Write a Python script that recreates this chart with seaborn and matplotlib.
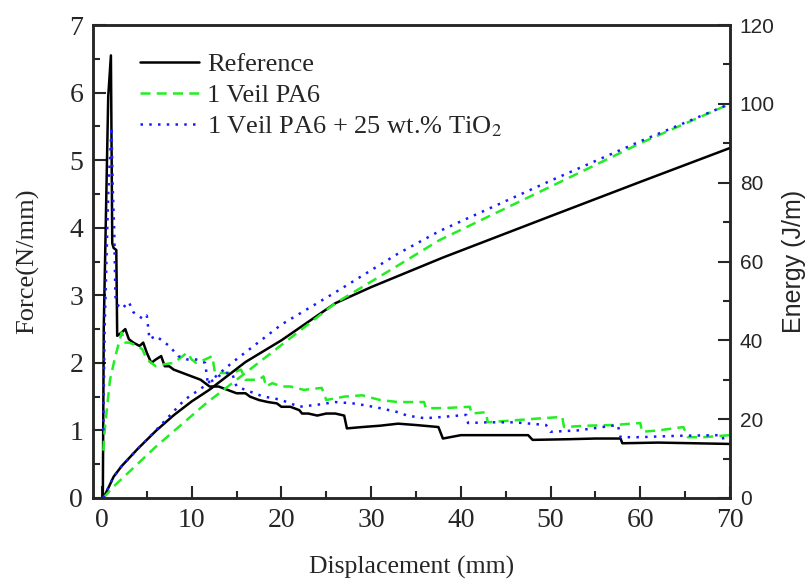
import numpy as np
import pandas as pd
import matplotlib
matplotlib.use("Agg")
import matplotlib.pyplot as plt
from matplotlib.ticker import MultipleLocator
import seaborn as sns

# force vs displacement
ref_fx = [0.1, 0.2, 0.7, 1.0, 1.15, 1.3, 1.6, 1.7, 2.2, 2.6, 3.0, 3.5, 4.2, 4.6, 5.0, 5.5, 6.0, 6.6, 7.0, 7.5,
          8.0, 9.0, 10.0, 11.0, 11.5, 12.0, 13.0, 14.0, 15.0, 16.0, 16.5, 17.5, 18.5, 19.5, 20.0, 21.0, 22.0,
          22.3, 23.0, 24.0, 25.0, 26.0, 27.0, 27.3, 29.0, 31.0, 33.0, 35.0, 37.5, 38.0, 40.0, 44.0, 47.5, 48.0,
          52.0, 55.0, 57.8, 58.0, 62.0, 66.0, 70.0]
ref_f = [0, 2.5, 5.94, 6.55, 3.77, 3.7, 3.67, 2.4, 2.45, 2.5, 2.35, 2.3, 2.25, 2.3, 2.15, 2.0, 2.05, 2.1, 1.95,
         1.95, 1.9, 1.85, 1.8, 1.75, 1.7, 1.65, 1.65, 1.6, 1.55, 1.55, 1.5, 1.45, 1.42, 1.4, 1.35, 1.35, 1.3,
         1.25, 1.25, 1.22, 1.25, 1.25, 1.22, 1.03, 1.05, 1.07, 1.1, 1.08, 1.05, 0.88, 0.93, 0.93, 0.93, 0.86,
         0.87, 0.88, 0.88, 0.81, 0.82, 0.81, 0.80]

pa6_fx = [0.15, 0.3, 0.9, 1.5, 2.2, 2.6, 3.0, 4.0, 4.5, 5.0, 5.5, 6.0, 7.0, 8.0, 9.0, 9.5, 10.0, 10.5, 11.5,
          12.3, 12.6, 13.5, 14.5, 15.5, 16.0, 17.5, 18.0, 18.3, 19.0, 20.0, 21.0, 22.5, 24.5, 25.0, 27.0, 29.0,
          31.0, 33.0, 35.9, 36.1, 38.0, 41.0, 41.2, 42.8, 43.0, 46.0, 49.0, 51.3, 51.5, 54.0, 57.0, 60.0, 60.2,
          62.0, 64.8, 65.3, 67.0, 70.0]
pa6_f = [0.7, 1.0, 1.75, 2.1, 2.45, 2.3, 2.3, 2.25, 2.2, 2.05, 2.0, 1.95, 1.98, 2.0, 2.1, 2.15, 2.05, 2.0, 2.05,
         2.1, 1.85, 1.85, 1.85, 1.9, 1.75, 1.75, 1.8, 1.65, 1.7, 1.65, 1.65, 1.6, 1.63, 1.45, 1.5, 1.52, 1.45,
         1.42, 1.42, 1.33, 1.33, 1.35, 1.25, 1.27, 1.12, 1.15, 1.18, 1.2, 1.05, 1.07, 1.08, 1.11, 0.98, 1.0,
         1.05, 0.9, 0.9, 0.93]

tio2_fx = [0.15, 0.3, 0.7, 1.07, 1.2, 1.37, 1.5, 1.8, 2.2, 2.6, 3.0, 3.5, 4.0, 4.6, 5.0, 5.3, 6.0, 6.5, 7.5,
           8.5, 9.5, 10.5, 11.5, 11.8, 12.5, 13.5, 14.5, 15.0, 16.0, 17.0, 18.0, 19.0, 20.0, 22.0, 24.0, 26.0,
           28.0, 29.4, 31.0, 33.0, 34.0, 36.0, 38.0, 40.6, 40.8, 43.0, 46.0, 49.5, 50.0, 53.0, 57.5, 57.8, 60.0,
           64.0, 68.8, 69.0, 70.0]
tio2_f = [1.0, 2.5, 4.5, 5.49, 4.6, 3.96, 2.98, 2.85, 2.8, 2.85, 2.9, 2.75, 2.7, 2.65, 2.7, 2.35, 2.4, 2.35,
          2.25, 2.1, 2.05, 2.05, 2.0, 1.7, 1.75, 1.85, 1.85, 1.65, 1.6, 1.55, 1.5, 1.48, 1.45, 1.35, 1.38, 1.42,
          1.4, 1.37, 1.33, 1.27, 1.22, 1.18, 1.2, 1.23, 1.11, 1.12, 1.12, 1.08, 0.98, 1.0, 1.08, 0.9, 0.9, 0.92,
          0.93, 0.88, 0.9]

# energy vs displacement
ref_ex = [0.15, 0.6, 1.3, 2.2, 4, 6, 8, 10, 12, 16, 20, 26, 30, 38, 50, 60, 70]
ref_e = [0, 2, 5.4, 8.1, 12.5, 17, 21, 24.5, 27.5, 34.5, 40, 49.4, 53.5, 61, 71.5, 80.2, 88.8]

pa6_ex = [0.15, 1.3, 6, 11.6, 18.3, 26, 33, 37.6, 50, 60, 70]
pa6_e = [0, 2.9, 13, 24, 35.8, 49.4, 59, 65.4, 79, 90, 100]

tio2_ex = [0.15, 1.3, 2.2, 4, 5.7, 9.2, 11.3, 14.6, 20, 26.1, 33, 37.6, 50, 60, 70]
tio2_e = [0, 5.4, 8.1, 12.5, 16.4, 24.9, 28.2, 34.5, 44, 52.3, 62, 67.7, 80.5, 90.5, 100]

labels = ["Reference", "1 Veil PA6", "1 Veil PA6 + 25 wt.% TiO$_2$"]
colors = ["black", "#22ee22", "#1a1aff"]
styles = ["-", (0, (4, 2.5)), (0, (1, 2.5))]

sns.set_style("ticks")
plt.rcParams['font.family'] = ['Liberation Serif', 'DejaVu Serif']
plt.rcParams['mathtext.fontset'] = 'stix'

fig = plt.figure(figsize=(8.07, 5.79), dpi=100)
ax = fig.add_axes([0.1152, 0.1399, 0.7894, 0.8169])
ax2 = ax.twinx()

force = [(ref_fx, ref_f), (pa6_fx, pa6_f), (tio2_fx, tio2_f)]
energy = [(ref_ex, ref_e), (pa6_ex, pa6_e), (tio2_ex, tio2_e)]

for (fx, f), lab, c, ls in zip(force, labels, colors, styles):
    sns.lineplot(x=fx, y=f, ax=ax, color=c, lw=1.8, sort=False, label=lab, linestyle=ls)
for (ex, e), c, ls in zip(energy, colors, styles):
    sns.lineplot(x=ex, y=e, ax=ax2, color=c, lw=1.8, sort=False, linestyle=ls)

ax.set_xlim(-1, 70)
ax.set_ylim(0, 7)
ax2.set_ylim(0, 120)

ax.xaxis.set_major_locator(MultipleLocator(10))
ax.xaxis.set_minor_locator(MultipleLocator(5))
ax.yaxis.set_major_locator(MultipleLocator(1))
ax.yaxis.set_minor_locator(MultipleLocator(0.5))
ax2.yaxis.set_major_locator(MultipleLocator(20))
ax2.yaxis.set_minor_locator(MultipleLocator(10))

ax.tick_params(which='both', direction='in', top=False, right=False, width=1.5, labelsize=20, pad=7)
ax.tick_params(which='major', length=9)
ax.tick_params(which='minor', length=5)
ax2.tick_params(which='both', direction='in', width=1.5, labelsize=15, pad=7)
ax2.tick_params(which='major', length=9)
ax2.tick_params(which='minor', length=5)
for t in ax2.get_yticklabels():
    t.set_family('Liberation Sans')

for a in (ax, ax2):
    for s in a.spines.values():
        s.set_linewidth(1.8)

ax.set_xlabel("Displacement (mm)", fontsize=18.5, labelpad=17)
ax.set_ylabel("Force(N/mm)", fontsize=19, labelpad=22)
ax2.set_ylabel("Energy (J/m)", fontsize=18, family='Liberation Sans', labelpad=5)

leg = ax.legend(loc='upper left', bbox_to_anchor=(0.057, 0.964), frameon=False, fontsize=19,
                handlelength=2.25, handletextpad=0.3, labelspacing=0.28, borderaxespad=0)

fig.savefig("out.png", dpi=100)
